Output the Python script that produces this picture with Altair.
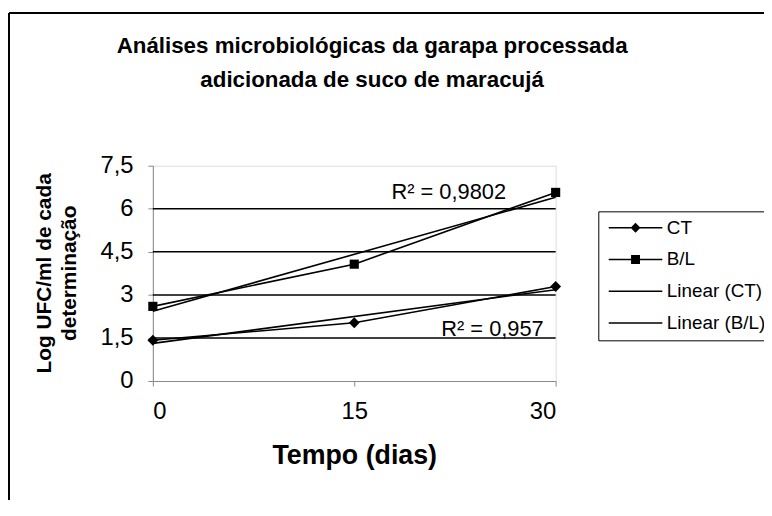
import altair as alt
import pandas as pd

# ---- data ----
dias = [0, 15, 30]
ct = [1.42, 2.03, 3.29]
bl = [2.60, 4.07, 6.57]
series_names = ["CT", "B/L"]
legend_labels = ["CT", "B/L", "Linear (CT)", "Linear (B/L)"]
r2_ct = "R² = 0,957"
r2_bl = "R² = 0,9802"
y_ticks = [0, 1.5, 3, 4.5, 6, 7.5]
x_ticks = [0, 15, 30]
grid_values = [1.5, 3, 4.5, 6]
title_lines = ["Análises microbiológicas da garapa processada",
               "adicionada de suco de maracujá"]
x_title = "Tempo (dias)"
y_title = ["Log UFC/ml de cada", "determinação"]

rows = []
for name, vals in zip(series_names, [ct, bl]):
    for d, v in zip(dias, vals):
        rows.append({"serie": name, "dia": d, "valor": v})
df = pd.DataFrame(rows)
grid_df = pd.DataFrame({"valor": grid_values})
legend_df = pd.DataFrame({"legenda": legend_labels})
r2_df = pd.DataFrame({
    "serie": series_names,
    "texto": [r2_ct, r2_bl],
    "dia": [dias[-1], dias[-1]],
    "valor": [ct[-1], bl[-1]],
})

SANS = "Liberation Sans"

X = alt.X("dia:Q",
          scale=alt.Scale(domain=[0, 30], nice=False, zero=False),
          axis=alt.Axis(values=x_ticks, title=x_title, grid=False,
                        labelFont=SANS, labelFontSize=24, labelPadding=14,
                        titleFont=SANS, titleFontSize=27, titleFontWeight="bold",
                        titleBaseline="alphabetic", titleY=83))
Y = alt.Y("valor:Q",
          scale=alt.Scale(domain=[0, 7.5], nice=False),
          axis=alt.Axis(values=y_ticks, grid=False,
                        labelExpr="replace(toString(datum.value), '.', ',')",
                        title=y_title, labelFont=SANS, labelFontSize=24,
                        labelPadding=15,
                        titleFont=SANS, titleFontSize=21, titleFontWeight="bold",
                        titleLineHeight=25, titleBaseline="alphabetic",
                        titleX=-103, titleY=108, titleAngle=270))

grid = alt.Chart(grid_df).mark_rule(color="black", strokeWidth=1.5).encode(y=Y)

lines = alt.Chart(df).mark_line(color="black", strokeWidth=1.6).encode(
    x=X, y=Y, detail="serie:N")

trend = alt.Chart(df).transform_regression(
    "dia", "valor", groupby=["serie"], extent=[0, 30]
).mark_line(color="black", strokeWidth=1.6).encode(x=X, y=Y, detail="serie:N")

pts_ct = alt.Chart(df).transform_filter(alt.datum.serie == "CT").mark_point(
    shape="diamond", filled=True, color="black", size=120, opacity=1
).encode(x=X, y=Y)

pts_bl = alt.Chart(df).transform_filter(alt.datum.serie == "B/L").mark_point(
    shape="square", filled=True, color="black", size=85, opacity=1
).encode(x=X, y=Y)

txt_bl = alt.Chart(r2_df).transform_filter(alt.datum.serie == "B/L").mark_text(
    align="right", baseline="middle", dx=-50, dy=0, font=SANS, fontSize=22,
    color="black"
).encode(x=X, y=Y, text="texto:N")

txt_ct = alt.Chart(r2_df).transform_filter(alt.datum.serie == "CT").mark_text(
    align="right", baseline="middle", dx=-12, dy=43, font=SANS, fontSize=22,
    color="black"
).encode(x=X, y=Y, text="texto:N")

# legend glyphs: thin filled bar (line) plus marker, unit = sqrt(size)/2 px
sym_line = "M-5.4,-0.15H5.4V0.15H-5.4Z"
sym_ct = sym_line + "M0,-1L1,0L0,1L-1,0Z"
sym_bl = sym_line + "M-0.9,-0.9H0.9V0.9H-0.9Z"

legend_layer = alt.Chart(legend_df).mark_point(
    opacity=0, filled=True, color="black"
).encode(
    shape=alt.Shape(
        "legenda:N",
        scale=alt.Scale(domain=legend_labels,
                        range=[sym_ct, sym_bl, sym_line, sym_line]),
        legend=alt.Legend(
            title=None, orient="none", legendX=449, legendY=46,
            strokeColor="black", fillColor="white", padding=7,
            symbolOffset=21, labelOffset=22, symbolSize=100,
            symbolFillColor="black", symbolStrokeWidth=0, symbolOpacity=1,
            labelFont=SANS, labelFontSize=19, labelColor="black",
            rowPadding=12, labelLimit=300,
        ),
    )
)

frame_df = pd.DataFrame({"k": [0]})
frame_left = alt.Chart(frame_df).mark_rule(color="black", strokeWidth=2).encode(
    x=alt.value(-145), y=alt.value(-154), y2=alt.value(337))
frame_top = alt.Chart(frame_df).mark_rule(color="black", strokeWidth=2).encode(
    x=alt.value(-145), x2=alt.value(620), y=alt.value(-154))

chart = alt.layer(
    grid, lines, trend, pts_ct, pts_bl, txt_bl, txt_ct, legend_layer,
    frame_left, frame_top
).properties(
    width=406, height=217,
    autosize=alt.AutoSizeParams(type="none"),
    padding={"left": 146, "top": 157, "right": 210, "bottom": 120},
    title=alt.TitleParams(
        text=title_lines, anchor="middle", frame="group", font=SANS,
        fontSize=22.5, fontWeight="bold", color="black", lineHeight=34,
        baseline="alphabetic", offset=-98, dx=18,
    ),
).configure_view(
    fill="#c0c0b8", stroke="transparent"
).configure_axis(
    grid=False, domainColor="black", domainWidth=1.5, tickColor="black",
    tickWidth=1.5, tickSize=8, labelColor="black", titleColor="black",
).configure(background="white")

chart.save("out.html", embed_options={"renderer": "svg", "actions": False})
